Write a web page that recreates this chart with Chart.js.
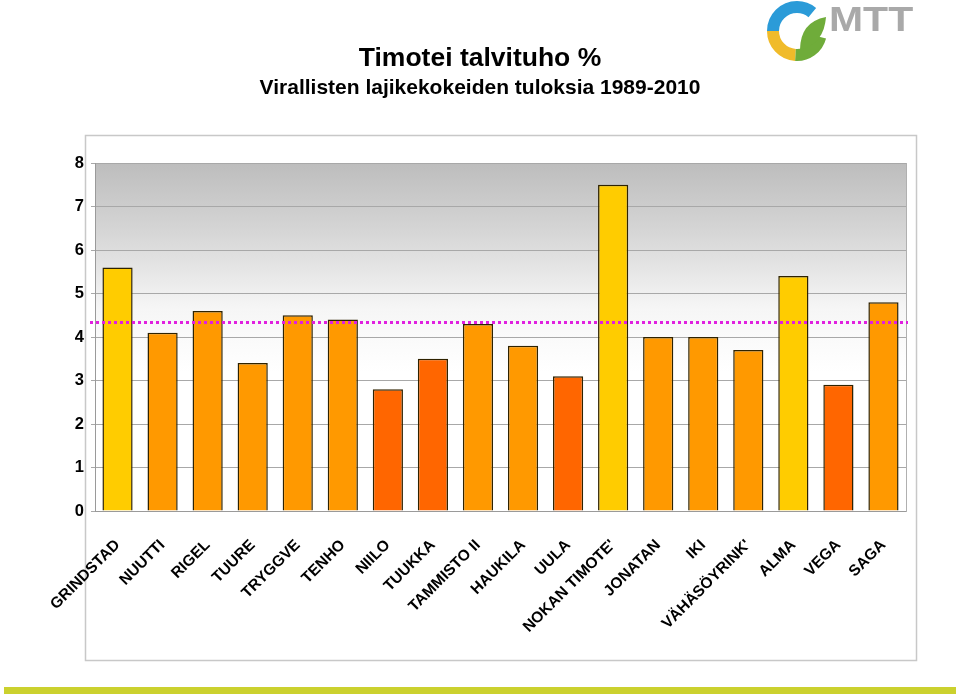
<!DOCTYPE html>
<html>
<head>
<meta charset="utf-8">
<script src="https://cdn.jsdelivr.net/npm/chart.js@4/dist/chart.umd.min.js"></script>
<style>
  html, body { margin: 0; padding: 0; background: #fff; }
  #wrap { width: 960px; height: 696px; position: relative; }
</style>
</head>
<body>
<div id="wrap"><canvas id="winter-chart" width="960" height="696"></canvas></div>
<script>
// ── Data ────────────────────────────────────────────────────────────────────
const categories = [
    'GRINDSTAD', 'NUUTTI', 'RIGEL', 'TUURE', 'TRYGGVE', 'TENHO', 'NIILO', 'TUUKKA',
    'TAMMISTO II', 'HAUKILA', 'UULA', "NOKAN TIMOTE'", 'JONATAN', 'IKI',
    "VÄHÄSÖYRINK'", 'ALMA', 'VEGA', 'SAGA'
];
const winterKill = [5.6, 4.1, 4.6, 3.4, 4.5, 4.4, 2.8, 3.5, 4.3, 3.8, 3.1, 7.5, 4.0, 4.0, 3.7, 5.4, 2.9, 4.8];
const average    = 4.34;
const yTicks     = [0, 1, 2, 3, 4, 5, 6, 7, 8];

// ── Styles ──────────────────────────────────────────────────────────────────
const FONT   = '"Liberation Sans", Arial, sans-serif';
const YELLOW = '#FFCC00', ORANGE = '#FF9900', DARK = '#FF6600';
const barColors = [
    YELLOW, ORANGE, ORANGE, ORANGE, ORANGE, ORANGE, DARK, DARK, ORANGE,
    ORANGE, DARK, YELLOW, ORANGE, ORANGE, ORANGE, YELLOW, DARK, ORANGE
];

// page decoration: outer frame, bottom stripe, logo
const backdrop = {
    id: 'backdrop',
    beforeDraw(chart) {
        const ctx = chart.ctx;
        ctx.save();
        ctx.fillStyle = '#fff';
        ctx.fillRect(0, 0, chart.width, chart.height);

        ctx.strokeStyle = '#c8c8c8';
        ctx.lineWidth = 1.5;
        ctx.strokeRect(85.5, 135.5, 831, 525);

        ctx.fillStyle = '#cbd12e';
        ctx.fillRect(4, 687, 952, 7);

        // logo
        const cx = 797, cy = 31, r = 24;
        ctx.lineWidth = 12;
        ctx.lineCap = 'butt';
        ctx.strokeStyle = '#2b9bd8';
        ctx.beginPath(); ctx.arc(cx, cy, r, Math.PI, Math.PI * 1.72); ctx.stroke();
        ctx.strokeStyle = '#f0bb2a';
        ctx.beginPath(); ctx.arc(cx, cy, r, Math.PI * 0.52, Math.PI); ctx.stroke();
        ctx.strokeStyle = '#6fac3a';
        ctx.beginPath(); ctx.arc(cx, cy, r, Math.PI * 0.08, Math.PI * 0.52); ctx.stroke();
        ctx.fillStyle = '#6fac3a';
        ctx.beginPath();
        ctx.moveTo(800, 50);
        ctx.quadraticCurveTo(800, 22, 826, 17);
        ctx.quadraticCurveTo(824, 44, 800, 50);
        ctx.fill();

        ctx.fillStyle = '#a9a9a9';
        ctx.font = 'bold 35px ' + FONT;
        ctx.textBaseline = 'alphabetic';
        ctx.save();
        ctx.translate(829, 31);
        ctx.scale(1.17, 1);
        ctx.fillText('MTT', 0, 0);
        ctx.restore();
        ctx.restore();
    }
};

// grey-to-white plot background
const plotBackground = {
    id: 'plotBackground',
    beforeDraw(chart) {
        const { ctx, chartArea: a } = chart;
        const g = ctx.createLinearGradient(0, a.top, 0, a.bottom);
        g.addColorStop(0, '#bdbdbd');
        g.addColorStop(0.2, '#d6d6d6');
        g.addColorStop(0.42, '#f6f6f6');
        g.addColorStop(0.6, '#ffffff');
        g.addColorStop(1, '#ffffff');
        ctx.save();
        ctx.fillStyle = g;
        ctx.fillRect(a.left, a.top, a.right - a.left, a.bottom - a.top);
        ctx.restore();
    }
};

// dotted magenta average line
const averageLine = {
    id: 'averageLine',
    afterDatasetsDraw(chart) {
        const { ctx, chartArea: a } = chart;
        const y = Math.round(chart.scales.y.getPixelForValue(average)) + 0.5;
        ctx.save();
        ctx.strokeStyle = '#e020e0';
        ctx.lineWidth = 3;
        ctx.setLineDash([3, 3]);
        ctx.beginPath();
        ctx.moveTo(a.left - 5, y);
        ctx.lineTo(a.right + 2, y);
        ctx.stroke();
        ctx.restore();
    }
};

new Chart(document.getElementById('winter-chart'), {
    type: 'bar',
    data: {
        labels: categories,
        datasets: [{
            data: winterKill,
            backgroundColor: barColors,
            borderColor: '#2e2200',
            borderWidth: 1.5,
            barPercentage: 0.67,
            categoryPercentage: 1,
        }],
    },
    options: {
        responsive: false,
        animation: false,
        layout: { padding: 0 },
        plugins: {
            legend: { display: false },
            tooltip: { enabled: false },
            title: {
                display: true,
                text: 'Timotei talvituho %',
                color: '#000',
                font: { family: FONT, size: 26.5, weight: 'bold', lineHeight: 1.2 },
                padding: { top: 43, bottom: 0 },
            },
            subtitle: {
                display: true,
                text: 'Virallisten lajikekokeiden tuloksia 1989-2010',
                color: '#000',
                font: { family: FONT, size: 21, weight: 'bold', lineHeight: 1.2 },
                padding: { top: 1, bottom: 62 },
            },
        },
        scales: {
            x: {
                grid: { display: false, offset: true },
                border: { display: true, color: '#9a9a9a', width: 1 },
                ticks: {
                    color: '#000',
                    minRotation: 45,
                    maxRotation: 45,
                    autoSkip: false,
                    padding: 17,
                    font: { family: FONT, size: 15.5, weight: 'bold' },
                },
                afterFit(scale) { scale.height = 185; },
            },
            y: {
                min: 0,
                max: 8,
                afterBuildTicks(scale) { scale.ticks = yTicks.map(v => ({ value: v })); },
                grid: { color: '#a8a8a8', lineWidth: 1, tickLength: 4 },
                border: { display: true, color: '#9a9a9a', width: 1 },
                ticks: {
                    color: '#000',
                    padding: 7,
                    font: { family: FONT, size: 16.5, weight: 'bold' },
                },
                afterFit(scale) { scale.width = 95; },
            },
            yRight: {
                position: 'right',
                display: true,
                grid: { display: false },
                border: { display: true, color: '#b0b0b0', width: 1 },
                ticks: { display: false },
                afterFit(scale) { scale.width = 54; },
            },
        },
    },
    plugins: [backdrop, plotBackground, averageLine],
});
</script>
</body>
</html>
